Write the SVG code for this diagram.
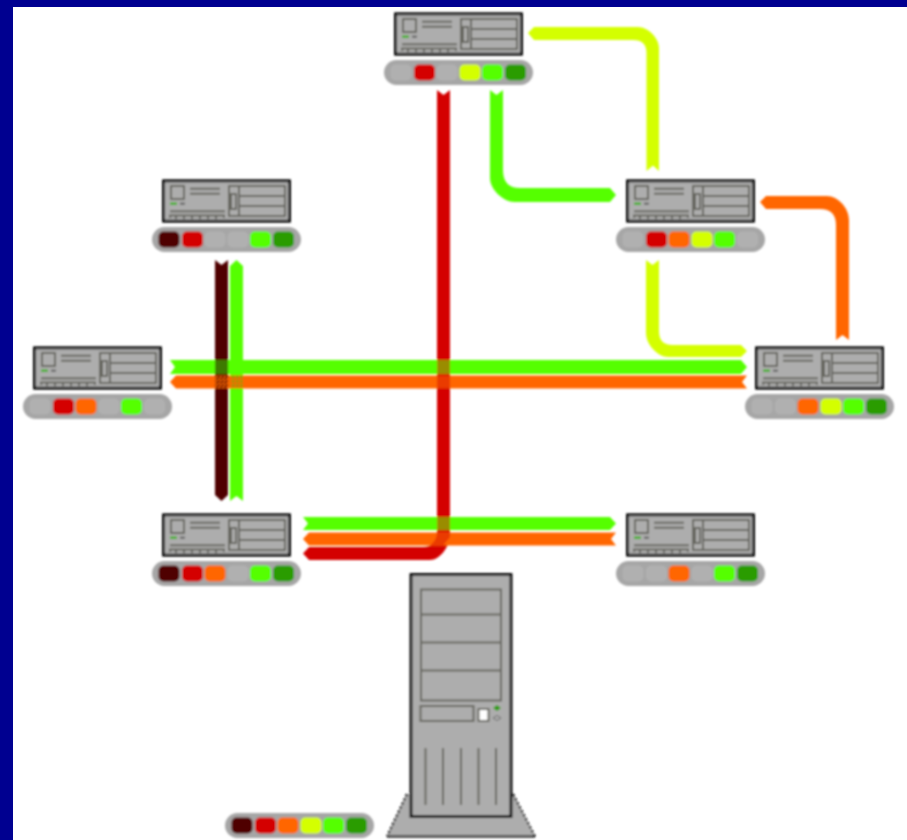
<svg xmlns="http://www.w3.org/2000/svg" width="907" height="840" viewBox="0 0 907 840">
<style>
.bg{fill:#000090}.page{fill:#fff}
.srv{fill:#adadad;stroke:#000;stroke-width:2.800}
.in{fill:none;stroke:#66665e;stroke-width:2}
.pill{fill:#a6a6a6}
.o{fill:#b0b0b0}.m{fill:#4f0000}.r{fill:#d40000}.a{fill:#ff6600}.y{fill:#d4ff00}.g{fill:#55ff00}.d{fill:#2a9c00}
</style>
<defs>
<filter id="soft" filterUnits="userSpaceOnUse" x="0" y="0" width="907" height="840"><feGaussianBlur stdDeviation="0.8"/></filter>
<g id="server">
<rect class="srv" x="1.500" y="0.800" width="126" height="40.400"/>
<rect class="in" x="9" y="6" width="13" height="13"/>
<path class="in" d="M28 8.700H58M28 13.700H58M8 31.300H63M8 38V35.500H62V38M14 36V39M22 36V39M30 36V39M38 36V39M46 36V39M54 36V39"/>
<rect class="in" x="67" y="6" width="56" height="30"/>
<path class="in" d="M77 6V36M77 16H123M77 26H123"/>
<rect class="in" x="69" y="14" width="5" height="15"/>
<path d="M8 23.700H15" stroke="#2fb000" stroke-width="2.200"/>
<path d="M18 23.700H23" stroke="#666" stroke-width="2.200"/>
</g>
<g id="pill"><rect class="pill" x="0" y="0" width="149" height="25" rx="12.500"/></g>
<rect id="lamp" x="-10.500" y="-8" width="21" height="16" rx="5"/>
<pattern id="dm" width="4" height="4" patternUnits="userSpaceOnUse"><rect width="4" height="4" fill="#ff6600"/><path d="M0 4L4 0" stroke="#4f0000" stroke-width="1.800"/></pattern>
<pattern id="dg" width="4" height="4" patternUnits="userSpaceOnUse"><rect width="4" height="4" fill="#ff6600"/><rect width="2.500" height="2.500" fill="#70a000"/></pattern>
</defs>
<rect class="bg" width="907" height="840"/>
<rect class="page" x="13" y="7" width="894" height="833"/>
<g id="content" filter="url(#soft)">
<g id="connectors">
<path class="y" d="M528 33L534 27H638C648 27 659 38 659 48V171L653 165.500L646.500 171V53Q646.500 40 633 40H534Z"/>
<path class="g" d="M490 90L496.500 95L503 90V170Q503 188 520 188H610L616 195L610 202H514C504 202 490 190 490 178Z"/>
<path class="y" d="M646 260L652.500 265L659 260V331Q659 345 672 345H741L747 351L741 357H668C658 357 646 345 646 333Z"/>
<path class="a" d="M760 202L766 196H827C838 196 849 208 849 220V340L842.500 335L836 340V225Q836 209 820 209H766Z"/>
<path class="g" d="M170 360H741L747 367L741 374H170L175 367Z"/>
<path class="a" d="M170 382L176 375.500H747L742 382L747 388.500H176Z"/>
<path class="m" d="M215 260L221.500 265L228 260V495L221.500 501L215 495Z"/>
<path class="g" d="M230 266L236.500 260L243 266V501L236.500 496L230 501Z"/>
<path class="r" d="M437 90L443.500 95L450 90V535C450 546 440 560 430 560H309L303 553.500L309 547H423Q437 547 437 532Z"/>
<path class="g" d="M303 517H610L616 523.500L610 530H303L308 523.500Z"/>
<path class="a" d="M303 539L309 532.500H616L611 539L616 545.500H309Z"/>
<rect x="215" y="360" width="13" height="14" fill="#3e7a00"/>
<rect x="215" y="375.500" width="13" height="13" fill="url(#dm)"/>
<rect x="230" y="375.500" width="13" height="13" fill="url(#dg)"/>
<rect x="437" y="360" width="13" height="14" fill="#9a8c00"/>
<rect x="437" y="375.500" width="13" height="13" fill="#ea3a00"/>
<rect x="437" y="517" width="13" height="13" fill="#9a8c00"/>
<path d="M437 532.500H450V537L443 545.500H430Q437 540 437 532.500Z" fill="#ea3a00"/>
</g>
<g id="node-top"><use href="#server" x="394" y="13"/><use href="#pill" x="384" y="60"/>
<use href="#lamp" class="o" x="401" y="72.500"/><use href="#lamp" class="r" x="424.500" y="72.500"/><use href="#lamp" class="o" x="447" y="72.500"/><use href="#lamp" class="y" x="470" y="72.500"/><use href="#lamp" class="g" x="492.500" y="72.500"/><use href="#lamp" class="d" x="515.500" y="72.500"/></g>
<g id="node-upper-left"><use href="#server" x="162" y="180"/><use href="#pill" x="152" y="227"/>
<use href="#lamp" class="m" x="169" y="239.500"/><use href="#lamp" class="r" x="192.500" y="239.500"/><use href="#lamp" class="o" x="215" y="239.500"/><use href="#lamp" class="o" x="238" y="239.500"/><use href="#lamp" class="g" x="260.500" y="239.500"/><use href="#lamp" class="d" x="283.500" y="239.500"/></g>
<g id="node-upper-right"><use href="#server" x="626" y="180"/><use href="#pill" x="616" y="227"/>
<use href="#lamp" class="o" x="633" y="239.500"/><use href="#lamp" class="r" x="656.500" y="239.500"/><use href="#lamp" class="a" x="679" y="239.500"/><use href="#lamp" class="y" x="702" y="239.500"/><use href="#lamp" class="g" x="724.500" y="239.500"/><use href="#lamp" class="o" x="747.500" y="239.500"/></g>
<g id="node-mid-left"><use href="#server" x="33" y="347"/><use href="#pill" x="23" y="394"/>
<use href="#lamp" class="o" x="40" y="406.500"/><use href="#lamp" class="r" x="63.500" y="406.500"/><use href="#lamp" class="a" x="86" y="406.500"/><use href="#lamp" class="o" x="109" y="406.500"/><use href="#lamp" class="g" x="131.500" y="406.500"/><use href="#lamp" class="o" x="154.500" y="406.500"/></g>
<g id="node-mid-right"><use href="#server" x="755" y="347"/><use href="#pill" x="745" y="394"/>
<use href="#lamp" class="o" x="762" y="406.500"/><use href="#lamp" class="o" x="785.500" y="406.500"/><use href="#lamp" class="a" x="808" y="406.500"/><use href="#lamp" class="y" x="831" y="406.500"/><use href="#lamp" class="g" x="853.500" y="406.500"/><use href="#lamp" class="d" x="876.500" y="406.500"/></g>
<g id="node-lower-left"><use href="#server" x="162" y="514"/><use href="#pill" x="152" y="561"/>
<use href="#lamp" class="m" x="169" y="573.500"/><use href="#lamp" class="r" x="192.500" y="573.500"/><use href="#lamp" class="a" x="215" y="573.500"/><use href="#lamp" class="o" x="238" y="573.500"/><use href="#lamp" class="g" x="260.500" y="573.500"/><use href="#lamp" class="d" x="283.500" y="573.500"/></g>
<g id="node-lower-right"><use href="#server" x="626" y="514"/><use href="#pill" x="616" y="561"/>
<use href="#lamp" class="o" x="633" y="573.500"/><use href="#lamp" class="o" x="656.500" y="573.500"/><use href="#lamp" class="a" x="679" y="573.500"/><use href="#lamp" class="o" x="702" y="573.500"/><use href="#lamp" class="g" x="724.500" y="573.500"/><use href="#lamp" class="d" x="747.500" y="573.500"/></g>
<g id="node-tower">
<path d="M407 794L387 836.500H535L513 794Z" fill="#adadad"/>
<path d="M407 794L387 836.500M513 794L535 836.500" fill="none" stroke="#000" stroke-width="2" stroke-dasharray="3 1.500"/>
<path d="M387 836.500H535" stroke="#000" stroke-width="2"/>
<rect class="srv" x="411" y="574.500" width="100" height="242"/>
<rect class="in" x="421" y="589.500" width="80" height="111"/>
<path class="in" d="M421 614.500H501M421 642.500H501M421 670.500H501"/>
<rect class="in" x="420.500" y="706" width="53" height="15"/>
<rect x="478.500" y="709" width="10" height="12" fill="#fff" stroke="#66665e" stroke-width="2"/>
<path d="M493 708L497 705L501 708L497 711Z" fill="#2a9c00"/>
<path d="M493 718L497 715.500L501 718L497 720.500Z" fill="none" stroke="#666" stroke-width="1"/>
<path class="in" d="M425.500 748V805M443 748V805M461 748V805M478.500 748V805M496 748V805"/>
<use href="#pill" x="225" y="813"/>
<use href="#lamp" class="m" x="242" y="825.500"/><use href="#lamp" class="r" x="265.500" y="825.500"/><use href="#lamp" class="a" x="288" y="825.500"/><use href="#lamp" class="y" x="311" y="825.500"/><use href="#lamp" class="g" x="333.500" y="825.500"/><use href="#lamp" class="d" x="356.500" y="825.500"/>
</g>
</g>
</svg>
